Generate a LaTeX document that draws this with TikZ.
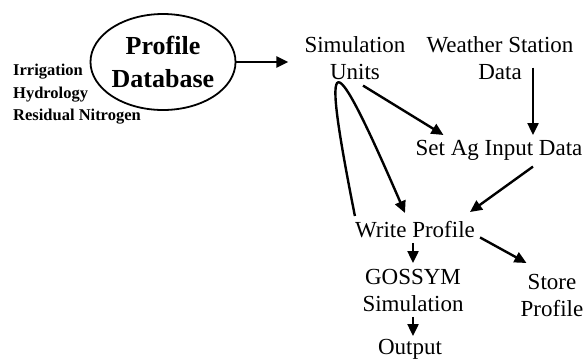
\documentclass[tikz,border=0pt]{standalone}
\usepackage{fontspec}
\setmainfont{Liberation Serif}
\usetikzlibrary{shapes.geometric,arrows.meta}

\begin{document}
\begin{tikzpicture}
[x=1pt,y=-1pt,
  textdecorate/.style={inner sep=0pt,anchor=north,align=center,font=\fontsize{23}{27}\selectfont},
  dbdecorate/.style={shape=ellipse,draw,line width=1.8pt,minimum width=144pt,
    minimum height=96pt,inner sep=0pt,align=center,font=\fontsize{26}{33}\selectfont\bfseries},
  listdecorate/.style={anchor=north west,inner sep=0pt,align=left,
    font=\fontsize{16.5}{22.5}\selectfont\bfseries},
  arrowdecorate/.style={-{Triangle[length=12pt,width=11pt]},line width=2.4pt}]
\useasboundingbox (0,0) rectangle (586,362);
%% database and what it holds
\node (db) at (163,62) [dbdecorate] {Profile\\Database};
\node (contents) at (13,64) [listdecorate] {Irrigation\\Hydrology\\Residual Nitrogen};
%% processing steps
\foreach \nodename/\x/\y/\nodetext in {units/355/36/{Simulation\\Units},
  weather/500/36/{Weather Station\\Data}, setag/499/140/{Set Ag Input Data},
  wp/415/221/{Write Profile}, gossym/413/269/{GOSSYM\\Simulation},
  store/552/274/{Store\\Profile}, output/410/339/{Output}} {
  \node (\nodename) at (\x,\y) [textdecorate] {\nodetext};
}
%% arrows between steps
\path
(db.east) edge[arrowdecorate,shorten >=16pt] (db.east -| units.west)
([xshift=33pt,yshift=12pt]weather.south) edge[arrowdecorate] ([xshift=34pt,yshift=5pt]setag.north)
([xshift=8pt,yshift=-6pt]units.south) edge[arrowdecorate] ([xshift=28pt,yshift=5pt]setag.north west)
([xshift=34pt,yshift=-6pt]setag.south) edge[arrowdecorate] ([xshift=55pt,yshift=9pt]wp.north)
(wp.south -| gossym.north) edge[arrowdecorate,shorten <=5pt,shorten >=6pt] (gossym.north)
(gossym.south) edge[arrowdecorate,shorten <=5pt,shorten >=3pt] (gossym.south |- output.north)
([xshift=5pt,yshift=-8pt]wp.east) edge[arrowdecorate] ([xshift=6pt,yshift=11pt]store.north west);
%% the loop back from the simulation units
\draw[arrowdecorate] ([yshift=5pt]wp.north west) .. controls (320,40) and (330,40)
  .. ([xshift=-10pt,yshift=8pt]wp.north);
\end{tikzpicture}
\end{document}
